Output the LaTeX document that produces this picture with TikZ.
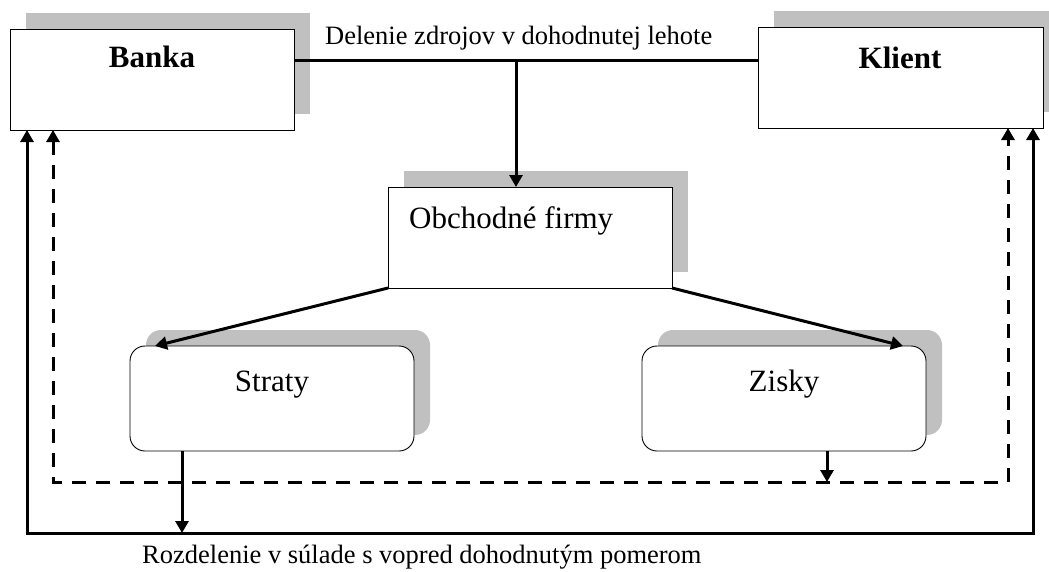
\documentclass[tikz,border=0pt]{standalone}
\usepackage{fontspec}
\setmainfont{Liberation Serif}
\usetikzlibrary{arrows.meta}
\definecolor{shadowgray}{RGB}{192,192,192}
\tikzset{
  box/.style={draw, line width=0.9pt, fill=white, anchor=north west,
    inner sep=0pt, outer sep=0pt,
    preaction={fill=shadowgray, transform canvas={xshift=16pt,yshift=16pt}}},
  rbox/.style={box, rounded corners=15pt},
  bigtxt/.style={font=\fontsize{31}{36}\selectfont, inner sep=0pt},
  boldtxt/.style={font=\fontsize{31}{36}\selectfont\bfseries, inner sep=0pt},
  smalltxt/.style={font=\fontsize{26.5}{30}\selectfont, inner sep=0pt},
  conn/.style={line width=3pt},
  tip/.style={-{Triangle[length=12pt,width=13pt]}},
  bothtips/.style={{Triangle[length=12pt,width=13pt]}-{Triangle[length=12pt,width=13pt]}},
  dashconn/.style={conn, dash pattern=on 14pt off 10pt}
}
\begin{document}
\begin{tikzpicture}[x=1pt,y=-1pt]
\useasboundingbox (0,0) rectangle (1049,571);
% boxes
\node[box, minimum width=284pt, minimum height=101pt] (banka) at (10,29) {};
\node[box, minimum width=285pt, minimum height=101pt] (klient) at (758,27) {};
\node[box, minimum width=284pt, minimum height=101pt] (obch) at (388,187) {};
\node[rbox, minimum width=284pt, minimum height=105pt] (straty) at (130,346) {};
\node[rbox, minimum width=284pt, minimum height=105pt] (zisky) at (642,346) {};
% texts
\node[boldtxt, anchor=base] (bankaT) at (152,67) {Banka};
\node[boldtxt, anchor=base] (klientT) at (900,68) {Klient};
\node[bigtxt, anchor=base west] (obchT) at (409,228) {Obchodné firmy};
\node[bigtxt, anchor=base] (stratyT) at (272,391) {Straty};
\node[bigtxt, anchor=base] (ziskyT) at (784,391) {Zisky};
\node[smalltxt, anchor=base west] (delT) at (325,44) {Delenie zdrojov v dohodnutej lehote};
\node[smalltxt, anchor=base west] (rozT) at (142,563) {Rozdelenie v súlade s vopred dohodnutým pomerom};
% coordinates
\coordinate (topy) at (516,60);
\coordinate (sb) at (182,533);
\coordinate (zb) at (827,482);
\coordinate (sl) at (27,533);
\coordinate (sr) at (1033,533);
\coordinate (dl) at (53,482);
\coordinate (dr) at (1008,482);
% connectors
\draw[conn] (banka.east |- topy) -- (klient.west |- topy);
\draw[conn, tip] (topy) -- (obch.north -| topy);
\draw[conn, tip] (obch.south west) -- ([xshift=25pt]straty.north west);
\draw[conn, tip] (obch.south east) -- ([xshift=-23pt]zisky.north east);
\draw[dashconn, bothtips] (banka.south -| dl) -- (dl) -- (dr) -- (klient.south -| dr);
\draw[conn, bothtips] (banka.south -| sl) -- (sl) -- (sr) -- (klient.south -| sr);
\draw[conn, tip] (straty.south -| sb) -- (sb);
\draw[conn, tip] (zisky.south -| zb) -- (zb);
\end{tikzpicture}
\end{document}
